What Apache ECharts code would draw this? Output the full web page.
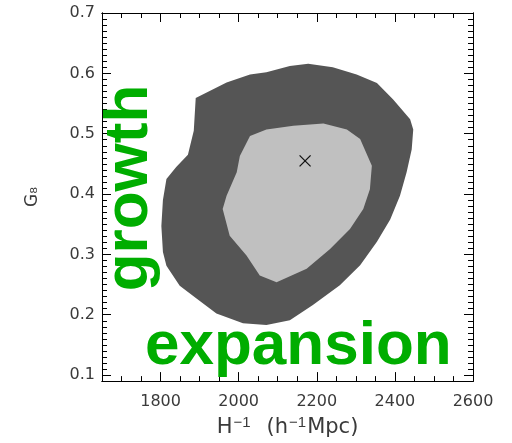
<!DOCTYPE html>
<html><head><meta charset="utf-8">
<script src="https://cdn.jsdelivr.net/npm/echarts@6/dist/echarts.min.js"></script>
<style>html,body{margin:0;padding:0;background:#fff}#c{width:512px;height:443px}</style>
</head><body><div id="c"></div>
<script>
// Outer (dark) confidence region, H^-1 (h^-1 Mpc) and G8
const outerH = [1890,1969,2029,2071,2131,2178,2241,2302,2354,2395,2439,2447,2443,2430,2413,2388,2354,2311,2259,2190,2131,2071,2011,1943,1892,1849,1815,1806,1802,1806,1815,1840,1870,1885];
const outerG = [0.559,0.585,0.598,0.602,0.612,0.616,0.610,0.598,0.584,0.557,0.524,0.507,0.474,0.436,0.397,0.358,0.321,0.282,0.249,0.216,0.191,0.183,0.186,0.202,0.227,0.248,0.281,0.304,0.347,0.390,0.425,0.445,0.465,0.505];
// Inner (light) confidence region
const innerH = [2029,2071,2140,2217,2277,2311,2341,2336,2319,2285,2234,2174,2097,2054,2020,1977,1959,1969,1995,2003];
const innerG = [0.496,0.507,0.513,0.517,0.507,0.491,0.447,0.408,0.375,0.342,0.309,0.276,0.254,0.265,0.298,0.331,0.375,0.397,0.436,0.463];
// Best fit point
const bestH = [2170];
const bestG = [0.455];
// Tick labels
const xTickLabels = [1800, 2000, 2200, 2400, 2600];
const yTickLabels = [0.1, 0.2, 0.3, 0.4, 0.5, 0.6, 0.7];

const X_MIN = 1650, X_MAX = 2600, Y_MIN = 0.09, Y_MAX = 0.70;
const xMinor = []; for (let v = 1700; v <= 2550; v += 50) xMinor.push(v);
const yMinor = []; for (let k = 10; k <= 69; k++) yMinor.push(+(k / 100).toFixed(2));

const labelFont = {fontFamily: 'DejaVu Sans', fontSize: 16, color: '#3a3a3a'};
function xAx(pos, ticks, len, labels, extra) {
  return Object.assign({
    type: 'value', position: pos, min: X_MIN, max: X_MAX, gridIndex: 0,
    axisLine: {show: true, onZero: false, lineStyle: {color: '#000', width: 1}},
    axisTick: {show: true, inside: true, length: len, customValues: ticks, lineStyle: {color: '#000', width: 1}},
    axisLabel: labels ? Object.assign({show: true, customValues: xTickLabels, margin: 13, formatter: v => String(v)}, labelFont) : {show: false},
    splitLine: {show: false}
  }, extra || {});
}
function yAx(pos, ticks, len, labels, extra) {
  return Object.assign({
    type: 'value', position: pos, min: Y_MIN, max: Y_MAX, gridIndex: 0,
    axisLine: {show: true, onZero: false, lineStyle: {color: '#000', width: 1}},
    axisTick: {show: true, inside: true, length: len, customValues: ticks, lineStyle: {color: '#000', width: 1}},
    axisLabel: labels ? Object.assign({show: true, customValues: yTickLabels, margin: 7, formatter: v => v.toFixed(1)}, labelFont) : {show: false},
    splitLine: {show: false}
  }, extra || {});
}

const chart = echarts.init(document.getElementById('c'), null, {renderer: 'canvas'});
const polySeries = (hs, gs, fill, z) => ({
  type: 'custom', xAxisIndex: 0, yAxisIndex: 0, z: z, silent: true,
  data: [[hs[0], gs[0]]],
  renderItem: function (params, api) {
    const pts = hs.map((h, i) => api.coord([h, gs[i]]));
    return {type: 'polygon', shape: {points: pts}, style: {fill: fill, stroke: null}};
  }
});
chart.setOption({
  animation: false,
  backgroundColor: '#fff',
  grid: {left: 102, right: 39, top: 13, bottom: 60, containLabel: false},
  xAxis: [
    xAx('bottom', xTickLabels, 9, true, {
      name: '{n|H}{s|\u22121}{g|}{n|(h}{s|\u22121}{n|Mpc)}', nameLocation: 'middle', nameGap: 33,
      nameTextStyle: {
        fontFamily: 'DejaVu Sans', fontSize: 21, color: '#3a3a3a',
        rich: {
          n: {fontFamily: 'DejaVu Sans', fontSize: 21, color: '#3a3a3a', lineHeight: 23, verticalAlign: 'bottom'},
          s: {fontFamily: 'Liberation Sans', fontSize: 15, color: '#3a3a3a', lineHeight: 12, verticalAlign: 'top', padding: [0, 1, 0, 1]},
          g: {width: 15, lineHeight: 23}
        }
      }
    }),
    xAx('bottom', xMinor, 5, false),
    xAx('top', xTickLabels, 9, false),
    xAx('top', xMinor, 5, false)
  ],
  yAxis: [
    yAx('left', yTickLabels, 9, true, {
      name: 'G\u2088', nameLocation: 'middle', nameGap: 61, nameRotate: 90,
      nameTextStyle: {fontFamily: 'DejaVu Sans', fontSize: 17, color: '#3a3a3a'}
    }),
    yAx('left', yMinor, 5, false),
    yAx('right', yTickLabels, 9, false),
    yAx('right', yMinor, 5, false)
  ],
  series: [
    polySeries(outerH, outerG, '#555555', 1),
    polySeries(innerH, innerG, '#c0c0c0', 2),
    {
      type: 'custom', xAxisIndex: 0, yAxisIndex: 0, z: 3, silent: true,
      data: bestH.map((h, i) => [h, bestG[i]]),
      renderItem: function (params, api) {
        const p = api.coord([api.value(0), api.value(1)]);
        const s = 5.5;
        const st = {stroke: '#111', lineWidth: 1.3};
        return {type: 'group', children: [
          {type: 'line', shape: {x1: p[0] - s, y1: p[1] - s, x2: p[0] + s, y2: p[1] + s}, style: st},
          {type: 'line', shape: {x1: p[0] + s, y1: p[1] - s, x2: p[0] - s, y2: p[1] + s}, style: st}
        ]};
      }
    }
  ],
  graphic: [
    {type: 'text', z: 100, x: 161, y: 188, rotation: Math.PI / 2,
      style: {text: 'growth', fontFamily: 'Liberation Sans', fontWeight: 'bold', fontSize: 62, fill: '#00ad00', align: 'center', verticalAlign: 'bottom'}},
    {type: 'text', z: 100, x: 145, y: 378,
      style: {text: 'expansion', fontFamily: 'Liberation Sans', fontWeight: 'bold', fontSize: 62, fill: '#00ad00', align: 'left', verticalAlign: 'bottom'}}
  ]
});
</script></body></html>
